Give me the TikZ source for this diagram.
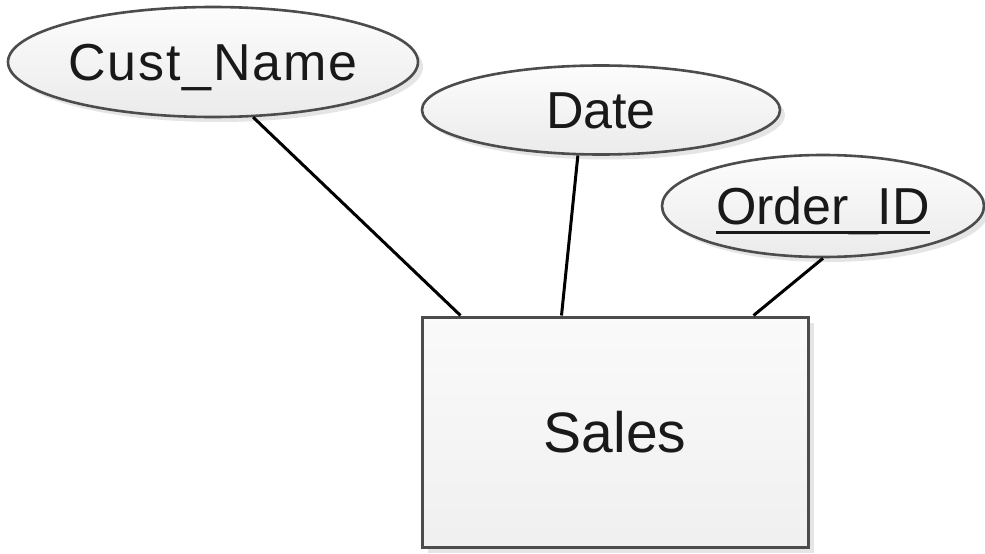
\documentclass[tikz,border=0pt]{standalone}
\usepackage{fontspec}
\setmainfont{Liberation Sans}
\newfontfamily\widefont[LetterSpace=3.5]{Liberation Sans}
\usetikzlibrary{shapes.geometric,shadows}
\newcommand{\myul}[1]{\setbox0\hbox{#1}\rlap{\vrule height -0.13em depth 0.19em width \wd0}\box0}
\tikzset{
  attr/.style={ellipse, draw=black!70, line width=2.6pt, inner sep=0pt,
    top color=white!99!black, bottom color=white!92!black,
    drop shadow={shadow xshift=5pt, shadow yshift=-5pt, opacity=0.10, fill=black},
    font=\fontsize{52}{60}\selectfont, text=black!90, text height=37pt, text depth=0pt},
  entity/.style={rectangle, draw=black!70, line width=3pt, inner sep=0pt,
    top color=white!98!black, bottom color=white!94!black,
    drop shadow={shadow xshift=6pt, shadow yshift=-6pt, opacity=0.10, fill=black},
    font=\fontsize{57}{66}\selectfont, text=black!90, text height=41pt, text depth=0pt},
  link/.style={draw=black, line width=3pt}
}
\begin{document}
\begin{tikzpicture}[x=1pt,y=-1pt]
\useasboundingbox (0,0) rectangle (985,554);
\node[entity, minimum width=386pt, minimum height=230pt] (sales) at (615,432) {Sales};
\node[attr, minimum width=410pt, minimum height=110pt] (cust) at (213,62) {\widefont Cust\_Name};
\node[attr, minimum width=358pt, minimum height=89pt] (date) at (601,110) {Date};
\node[attr, minimum width=322pt, minimum height=102pt] (order) at (823,206) {\myul{Order\_ID}};
\draw[link] (cust.-54) -- ([xshift=40pt]sales.north west);
\draw[link] (date.-117) -- ([xshift=141pt]sales.north west);
\draw[link] (order.south) -- ([xshift=333pt]sales.north west);
\end{tikzpicture}
\end{document}
